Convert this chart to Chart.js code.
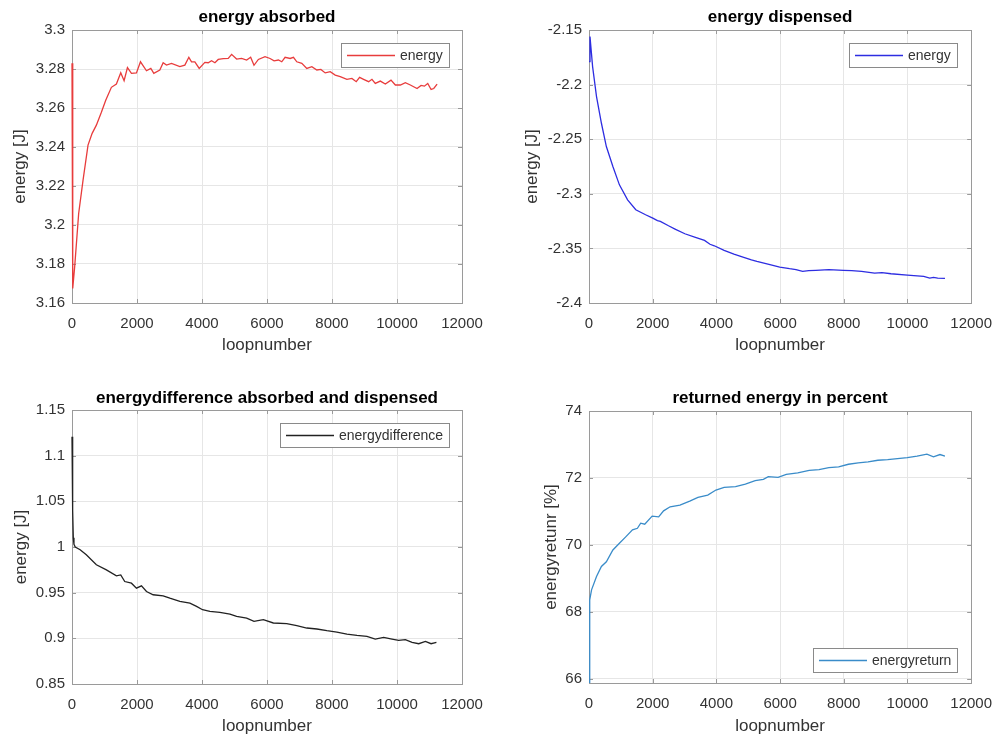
<!DOCTYPE html>
<html>
<head>
  <meta charset="utf-8">
  <title>Energy per loop</title>
  <script src="https://cdn.jsdelivr.net/npm/chart.js@4.4.0/dist/chart.umd.min.js"></script>
  <style>
    body {
      margin: 0;
      background: #fff;
      overflow: hidden;
      font-family: 'Liberation Sans', Arial, sans-serif;
    }
    .panel {
      position: absolute;
    }
  </style>
</head>
<body>
  <div class="panel" style="left:0;top:0;width:500px;height:360px"><canvas id="absorbed"></canvas></div>
  <div class="panel" style="left:500px;top:0;width:504px;height:360px"><canvas id="dispensed"></canvas></div>
  <div class="panel" style="left:0;top:370px;width:500px;height:365px"><canvas id="difference"></canvas></div>
  <div class="panel" style="left:500px;top:370px;width:504px;height:365px"><canvas id="returned"></canvas></div>

<script>
// x ticks shared by all four plots
const xTicks = [0, 2000, 4000, 6000, 8000, 10000, 12000];

// energy absorbed
const loopAbs = [0,15,30,82,205,340,493,620,750,904,1038,1212,1366,1500,1603,1706,1829,1983,2107,2292,2425,2517,2702,2805,2907,3062,3318,3472,3595,3678,3780,3914,4088,4191,4294,4397,4500,4654,4808,4911,5065,5219,5374,5497,5600,5734,5939,6094,6217,6351,6454,6557,6711,6814,6917,7071,7225,7380,7534,7657,7791,7945,8099,8253,8458,8613,8746,8849,8972,9127,9229,9332,9487,9641,9815,9949,10103,10257,10411,10617,10740,10843,10946,11049,11131,11234];
const energyAbs = [3.283,3.22,3.1675,3.1785,3.2059,3.223,3.241,3.247,3.2512,3.2578,3.264,3.2706,3.2723,3.2781,3.274,3.2807,3.2778,3.278,3.2837,3.2791,3.2803,3.2778,3.2795,3.2832,3.282,3.2829,3.2812,3.282,3.286,3.2837,3.2837,3.2803,3.2834,3.2832,3.2842,3.2832,3.2849,3.2853,3.2854,3.2875,3.2851,3.2854,3.2846,3.286,3.2819,3.2849,3.2863,3.2854,3.2842,3.2846,3.2837,3.286,3.2854,3.286,3.2837,3.2829,3.2803,3.2812,3.2795,3.2798,3.278,3.2786,3.2769,3.2761,3.2747,3.2752,3.2735,3.2757,3.2747,3.2735,3.2747,3.2726,3.2738,3.2723,3.2743,3.2718,3.2718,3.273,3.2718,3.27,3.2716,3.2712,3.2726,3.2695,3.27,3.2723];
const yTicksAbs = [3.16, 3.18, 3.2, 3.22, 3.24, 3.26, 3.28, 3.3];

// energy dispensed
const loopDis = [0,31,113,236,390,545,750,955,1212,1469,1777,2003,2150,2240,2497,2702,3010,3318,3627,3800,3935,4243,4551,4859,5100,5271,5682,5990,6298,6500,6709,6900,7120,7531,7993,8250,8558,8969,9200,9483,9997,10510,10700,10818,10950,11178];
const energyDis = [-2.179,-2.156,-2.1835,-2.211,-2.2354,-2.2567,-2.275,-2.2918,-2.3055,-2.3146,-2.3192,-2.3223,-2.3245,-2.3253,-2.3293,-2.3323,-2.3366,-2.3396,-2.3427,-2.3462,-2.3476,-2.3518,-2.3552,-2.3582,-2.3605,-2.3619,-2.3649,-2.3671,-2.3686,-2.3694,-2.371,-2.3704,-2.3701,-2.3695,-2.3701,-2.3704,-2.371,-2.3726,-2.3722,-2.3732,-2.3744,-2.3756,-2.3772,-2.3765,-2.3772,-2.3774];
const yTicksDis = [-2.4, -2.35, -2.3, -2.25, -2.2, -2.15];

// energy difference
const loopDif = [0,20,40,60,100,250,440,750,1058,1366,1500,1623,1829,1983,2137,2292,2497,2805,3010,3318,3627,3832,4017,4243,4551,4859,5065,5374,5600,5887,6195,6606,6917,7225,7534,7842,8150,8458,8767,9075,9332,9589,9846,10052,10257,10463,10668,10874,11049,11213];
const energyDif = [1.1208,1.04,1.01,1.003,1.0,0.997,0.9914,0.9805,0.975,0.9685,0.9695,0.9622,0.9604,0.955,0.9575,0.9513,0.9477,0.9466,0.944,0.9404,0.9386,0.935,0.9313,0.9295,0.9284,0.9266,0.924,0.9222,0.9185,0.9204,0.9168,0.916,0.9138,0.9113,0.9102,0.9084,0.9069,0.9047,0.9032,0.9021,0.8992,0.901,0.8992,0.8977,0.8985,0.8955,0.8941,0.8966,0.8941,0.8955];
const yTicksDif = [0.85, 0.9, 0.95, 1, 1.05, 1.1, 1.15];

// returned energy in percent
const loopRet = [0,15,30,80,236,390,545,750,955,1161,1366,1520,1623,1750,1983,2188,2342,2548,2856,3164,3421,3729,3986,4243,4602,4910,5219,5476,5630,5938,6195,6555,6915,7223,7531,7839,8147,8455,8763,9071,9379,9687,9995,10303,10611,10817,11022,11177];
const energyRet = [65.9,67.6,68.36,68.66,69.06,69.36,69.5,69.85,70.05,70.25,70.45,70.5,70.65,70.62,70.86,70.84,71.02,71.14,71.19,71.31,71.42,71.49,71.64,71.72,71.74,71.82,71.92,71.96,72.04,72.02,72.11,72.15,72.23,72.25,72.31,72.33,72.41,72.45,72.48,72.53,72.55,72.58,72.61,72.65,72.71,72.63,72.70,72.65];
const yTicksRet = [66, 68, 70, 72, 74];

const FONT = "'Liberation Sans', Arial, sans-serif";
const BOX = '#9a9a9a';
const GRID = '#e6e6e6';
const TEXT = '#333333';

// matlab style axes box with small inward ticks
const matlabBox = {
  id: 'matlabBox',
  beforeDatasetsDraw(chart) {
    const a = chart.chartArea, ctx = chart.ctx;
    const sx = chart.scales.x, sy = chart.scales.y;
    ctx.save();
    ctx.strokeStyle = BOX;
    ctx.lineWidth = 1;
    ctx.strokeRect(Math.round(a.left) + 0.5, Math.round(a.top) + 0.5, Math.round(a.right - a.left), Math.round(a.bottom - a.top));
    ctx.beginPath();
    sx.ticks.forEach(t => {
      const px = Math.round(sx.getPixelForValue(t.value)) + 0.5;
      ctx.moveTo(px, a.bottom); ctx.lineTo(px, a.bottom - 4);
      ctx.moveTo(px, a.top); ctx.lineTo(px, a.top + 4);
    });
    sy.ticks.forEach(t => {
      const py = Math.round(sy.getPixelForValue(t.value)) + 0.5;
      ctx.moveTo(a.left, py); ctx.lineTo(a.left + 4, py);
      ctx.moveTo(a.right, py); ctx.lineTo(a.right - 4, py);
    });
    ctx.stroke();
    ctx.restore();
  }
};

// legend drawn inside the axes like matlab does
const boxLegend = {
  id: 'boxLegend',
  afterDatasetsDraw(chart, args, opts) {
    const label = chart.data.datasets[0].label;
    const a = chart.chartArea, ctx = chart.ctx;
    ctx.save();
    ctx.font = '14px ' + FONT;
    const tw = ctx.measureText(label).width;
    const w = Math.round(6 + 48 + 5 + tw + 6), h = 24;
    const x = Math.round(a.right - opts.dx - w);
    const y = Math.round(opts.corner === 'se' ? a.bottom - opts.dy - h : a.top + opts.dy);
    ctx.fillStyle = '#fff';
    ctx.fillRect(x, y, w, h);
    ctx.strokeStyle = '#8a8a8a';
    ctx.lineWidth = 1;
    ctx.strokeRect(x + 0.5, y + 0.5, w, h);
    ctx.strokeStyle = opts.color;
    ctx.lineWidth = 1.3;
    ctx.beginPath();
    ctx.moveTo(x + 6, y + h / 2 + 0.5);
    ctx.lineTo(x + 54, y + h / 2 + 0.5);
    ctx.stroke();
    ctx.fillStyle = TEXT;
    ctx.textBaseline = 'middle';
    ctx.fillText(label, x + 59, y + h / 2 + 1);
    ctx.restore();
  }
};

function buildChart(id, xs, ys, o) {
  const points = xs.map((x, i) => ({ x: x, y: ys[i] }));
  return new Chart(document.getElementById(id), {
    type: 'line',
    data: {
      datasets: [{
        label: o.label,
        data: points,
        borderColor: o.color,
        borderWidth: 1.3,
        pointRadius: 0,
        tension: 0,
        fill: false,
        clip: 2
      }]
    },
    options: {
      animation: false,
      responsive: true,
      maintainAspectRatio: false,
      layout: { padding: { right: o.padRight } },
      plugins: {
        legend: { display: false },
        tooltip: { enabled: false },
        title: {
          display: true,
          text: o.title,
          fullSize: false,
          color: '#000',
          font: { family: FONT, size: 17, weight: 'bold', lineHeight: 1.2 },
          padding: o.titlePad
        },
        boxLegend: { corner: o.legendCorner, dx: o.legendDx, dy: o.legendDy, color: o.color }
      },
      scales: {
        x: {
          type: 'linear',
          min: 0,
          max: 12000,
          afterBuildTicks: s => { s.ticks = xTicks.map(v => ({ value: v })); },
          afterFit: s => { s.height = o.xHeight; },
          grid: { color: GRID, drawTicks: false },
          border: { display: false },
          ticks: { color: TEXT, font: { family: FONT, size: 15 }, padding: 12, maxRotation: 0, callback: v => String(v) },
          title: { display: true, text: 'loopnumber', color: TEXT, font: { family: FONT, size: 17, lineHeight: 1 }, padding: { top: 0, bottom: o.xTitleBottom } }
        },
        y: {
          min: o.yMin,
          max: o.yMax,
          afterBuildTicks: s => { s.ticks = o.yTicks.map(v => ({ value: v })); },
          afterFit: s => { s.width = o.yWidth; },
          grid: { color: GRID, drawTicks: false },
          border: { display: false },
          ticks: { color: TEXT, font: { family: FONT, size: 15 }, padding: 7, callback: v => String(+v.toFixed(4)) },
          title: { display: true, text: o.yLabel, color: TEXT, font: { family: FONT, size: 17, lineHeight: 1 }, padding: { top: o.yTitleTop, bottom: 0 } }
        }
      }
    },
    plugins: [matlabBox, boxLegend]
  });
}

buildChart('absorbed', loopAbs, energyAbs, {
  label: 'energy', color: 'rgb(232,60,60)', title: 'energy absorbed', yLabel: 'energy [J]',
  yMin: 3.16, yMax: 3.3, yTicks: yTicksAbs,
  padRight: 38, yWidth: 72, xHeight: 57, titlePad: { top: 6.8, bottom: 2.8 },
  xTitleBottom: 6.5, yTitleTop: 11.5, legendCorner: 'ne', legendDx: 13, legendDy: 13
});

buildChart('dispensed', loopDis, energyDis, {
  label: 'energy', color: 'rgb(45,45,225)', title: 'energy dispensed', yLabel: 'energy [J]',
  yMin: -2.4, yMax: -2.15, yTicks: yTicksDis,
  padRight: 26, yWidth: 89, xHeight: 57, titlePad: { top: 6.8, bottom: 2.8 },
  xTitleBottom: 6.5, yTitleTop: 23.5, legendCorner: 'ne', legendDx: 14, legendDy: 13
});

buildChart('difference', loopDif, energyDif, {
  label: 'energydifference', color: '#222222', title: 'energydifference absorbed and dispensed', yLabel: 'energy [J]',
  yMin: 0.85, yMax: 1.15, yTicks: yTicksDif,
  padRight: 38, yWidth: 72, xHeight: 51, titlePad: { top: 17.8, bottom: 1.8 },
  xTitleBottom: 0, yTitleTop: 12.5, legendCorner: 'ne', legendDx: 13, legendDy: 13
});

buildChart('returned', loopRet, energyRet, {
  label: 'energyreturn', color: '#3a8cc9', title: 'returned energy in percent', yLabel: 'energyretunr [%]',
  yMin: 65.88, yMax: 74, yTicks: yTicksRet,
  padRight: 26, yWidth: 89, xHeight: 52, titlePad: { top: 18.1, bottom: 2.5 },
  xTitleBottom: 0.5, yTitleTop: 42.5, legendCorner: 'se', legendDx: 14, legendDy: 11
});
</script>
</body>
</html>
